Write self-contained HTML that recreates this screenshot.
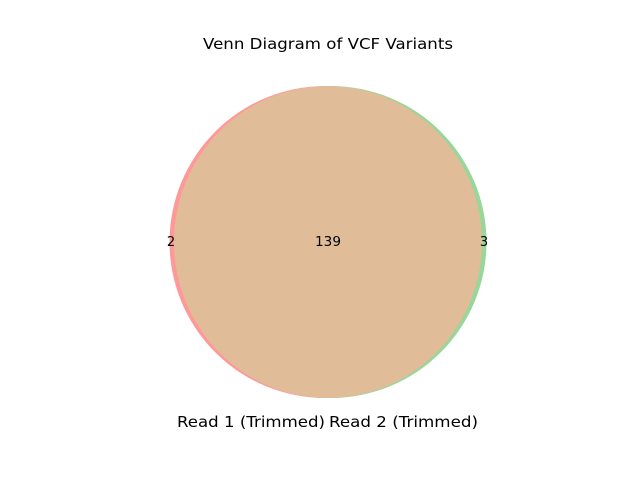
<!DOCTYPE html>
<html><head><meta charset="utf-8"><style>
body{margin:0;background:#fff;}
svg{display:block;font-family:"DejaVu Sans","Liberation Sans",sans-serif;}
</style></head><body>
<svg width="640" height="480">
<script>
const setLabels=["Read 1 (Trimmed)","Read 2 (Trimmed)"];
const regionCounts=[2,139,3];
</script>
<rect width="640" height="480" fill="#fff"/>
<text x="328" y="49" text-anchor="middle" font-size="15" textLength="250" lengthAdjust="spacingAndGlyphs">Venn Diagram of VCF Variants</text>
<circle cx="325.5" cy="242" r="156" fill="#ff9999"/>
<circle cx="330.5" cy="242" r="156" fill="#99d699"/>
<ellipse cx="328" cy="242" rx="154" ry="156" fill="#e0bc98"/>
<text x="171" y="246" text-anchor="middle" font-size="13">2</text>
<text x="328" y="246" text-anchor="middle" font-size="13" textLength="26" lengthAdjust="spacingAndGlyphs">139</text>
<text x="484" y="246" text-anchor="middle" font-size="13">3</text>
<text x="251" y="427" text-anchor="middle" font-size="15.5" textLength="148" lengthAdjust="spacingAndGlyphs">Read 1 (Trimmed)</text>
<text x="403.5" y="427" text-anchor="middle" font-size="15.5" textLength="149" lengthAdjust="spacingAndGlyphs">Read 2 (Trimmed)</text>
</svg>
</body></html>
